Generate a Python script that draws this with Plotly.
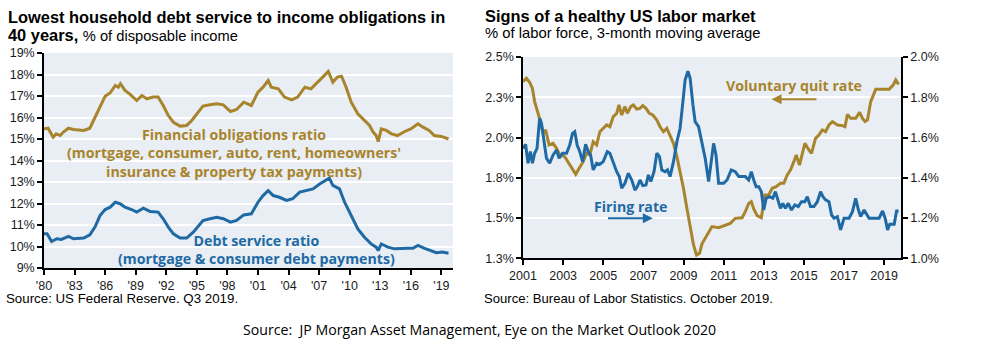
import plotly.graph_objects as go

# ---------------- Left chart data ----------------
for_years = [1980.0, 1980.4, 1980.9, 1981.2, 1981.6, 1981.9, 1982.4, 1982.9, 1983.9, 1984.5,
             1985.0, 1985.5, 1986.0, 1986.5, 1987.0, 1987.3, 1987.5, 1987.95, 1988.4, 1989.1,
             1989.6, 1990.1, 1990.7, 1991.2, 1991.7, 1992.2, 1992.7, 1993.35, 1994.0, 1994.5,
             1995.0, 1995.6, 1996.3, 1996.95, 1997.6, 1998.3, 1998.9, 1999.6, 2000.35, 2001.0,
             2001.5, 2002.0, 2002.3, 2003.0, 2003.6, 2004.3, 2004.9, 2005.6, 2006.2, 2006.9,
             2007.5, 2007.9, 2008.35, 2008.8, 2009.2, 2009.65, 2010.15, 2010.8, 2011.45, 2011.95,
             2012.3, 2012.6, 2012.8, 2013.1, 2013.6, 2014.1, 2014.7, 2015.4, 2016.0, 2016.7,
             2017.2, 2017.8, 2018.3, 2019.0, 2019.7]
for_values = [15.47, 15.5, 15.08, 15.24, 15.16, 15.32, 15.5, 15.44, 15.4, 15.5,
              16.0, 16.48, 16.99, 17.15, 17.49, 17.41, 17.57, 17.26, 17.1, 16.79,
              17.02, 16.87, 16.95, 16.95, 16.56, 16.09, 15.78, 15.6, 15.63, 15.86,
              16.17, 16.53, 16.59, 16.64, 16.59, 16.28, 16.37, 16.71, 16.56, 17.18,
              17.41, 17.72, 17.41, 17.33, 16.95, 16.82, 16.95, 17.41, 17.33, 17.64,
              17.95, 18.14, 17.64, 17.88, 17.92, 17.41, 16.71, 16.17, 15.86, 15.63,
              15.32, 15.16, 14.88, 15.47, 15.4, 15.24, 15.16, 15.35, 15.47, 15.71,
              15.55, 15.4, 15.16, 15.12, 15.0]

dsr_years = [1980.0, 1980.3, 1980.75, 1981.25, 1981.7, 1982.4, 1982.9, 1983.9, 1984.5, 1985.0,
             1985.5, 1986.0, 1986.5, 1987.0, 1987.5, 1987.95, 1988.6, 1989.1, 1989.75, 1990.4,
             1991.2, 1991.7, 1992.2, 1992.7, 1993.35, 1994.0, 1994.65, 1995.15, 1995.6, 1996.3,
             1996.95, 1997.6, 1998.3, 1998.9, 1999.6, 2000.35, 2001.0, 2001.5, 2002.0, 2002.5,
             2003.1, 2003.8, 2004.4, 2005.1, 2005.75, 2006.4, 2007.05, 2007.7, 2008.0, 2008.35,
             2009.0, 2009.5, 2010.15, 2010.8, 2011.45, 2012.1, 2012.6, 2012.8, 2013.1, 2013.75,
             2014.4, 2015.05, 2015.7, 2016.2, 2016.7, 2017.3, 2018.0, 2018.5, 2019.1, 2019.7]
dsr_values = [10.59, 10.59, 10.23, 10.36, 10.33, 10.47, 10.36, 10.39, 10.54, 10.9,
              11.44, 11.72, 11.83, 12.06, 11.98, 11.83, 11.72, 11.6, 11.78, 11.63,
              11.6, 11.29, 10.9, 10.59, 10.39, 10.39, 10.67, 10.98, 11.21, 11.29,
              11.36, 11.29, 11.13, 11.21, 11.47, 11.52, 12.06, 12.37, 12.6, 12.37,
              12.29, 12.14, 12.22, 12.53, 12.6, 12.68, 12.91, 13.07, 13.18, 12.84,
              12.68, 12.06, 11.44, 10.82, 10.43, 10.12, 9.97, 9.81, 10.12, 9.97,
              9.89, 9.92, 9.92, 9.92, 10.05, 9.92, 9.81, 9.71, 9.74, 9.69]

left_xticks = [1980, 1983, 1986, 1989, 1992, 1995, 1998, 2001, 2004, 2007, 2010, 2013, 2016, 2019]
left_xlabels = ["'80", "'83", "'86", "'89", "'92", "'95", "'98", "'01", "'04", "'07", "'10", "'13", "'16", "'19"]
left_yticks = [9, 10, 11, 12, 13, 14, 15, 16, 17, 18, 19]
left_ylabels = ["9%", "10%", "11%", "12%", "13%", "14%", "15%", "16%", "17%", "18%", "19%"]

# ---------------- Right chart data ----------------
quit_years = [2001.0, 2001.17, 2001.33, 2001.47, 2001.58, 2001.75, 2001.87, 2002.0, 2002.13, 2002.3,
              2002.5, 2002.67, 2002.83, 2003.08, 2003.33, 2003.5, 2003.63, 2003.8, 2004.0, 2004.17,
              2004.33, 2004.5, 2004.67, 2004.83, 2005.0, 2005.17, 2005.33, 2005.5, 2005.67, 2005.78,
              2005.92, 2006.08, 2006.2, 2006.37, 2006.5, 2006.67, 2006.83, 2006.97, 2007.13, 2007.3,
              2007.47, 2007.67, 2007.83, 2008.0, 2008.17, 2008.33, 2008.5, 2008.67, 2008.83, 2009.0,
              2009.17, 2009.33, 2009.5, 2009.65, 2009.8, 2009.92, 2010.08, 2010.25, 2010.42, 2010.75,
              2011.08, 2011.33, 2011.58, 2011.92, 2012.08, 2012.25, 2012.38, 2012.5, 2012.67, 2012.88,
              2013.05, 2013.25, 2013.42, 2013.62, 2013.83, 2014.0, 2014.17, 2014.33, 2014.5, 2014.62,
              2014.78, 2014.92, 2015.05, 2015.25, 2015.38, 2015.58, 2015.75, 2015.92, 2016.08, 2016.25,
              2016.42, 2016.67, 2016.92, 2017.05, 2017.17, 2017.33, 2017.58, 2017.78, 2017.92, 2018.05,
              2018.17, 2018.33, 2018.58, 2018.92, 2019.25, 2019.45, 2019.58, 2019.72]
quit_values = [2.347, 2.368, 2.343, 2.305, 2.223, 2.150, 2.099, 2.026, 2.047, 1.954,
               1.964, 1.933, 1.892, 1.881, 1.829, 1.798, 1.772, 1.809, 1.850, 1.902,
               1.892, 1.974, 1.954, 2.036, 2.057, 2.078, 2.067, 2.130, 2.150, 2.202,
               2.140, 2.192, 2.150, 2.192, 2.202, 2.177, 2.181, 2.198, 2.181, 2.150,
               2.140, 2.109, 2.067, 2.036, 2.057, 2.016, 1.964, 1.881, 1.788, 1.684,
               1.560, 1.436, 1.333, 1.270, 1.281, 1.340, 1.374, 1.416, 1.447, 1.440,
               1.457, 1.467, 1.498, 1.502, 1.540, 1.591, 1.602, 1.556, 1.515, 1.502,
               1.643, 1.643, 1.685, 1.695, 1.716, 1.716, 1.767, 1.798, 1.850, 1.892,
               1.829, 1.892, 1.964, 1.923, 1.902, 1.995, 2.016, 2.047, 2.036, 2.078,
               2.099, 2.078, 2.074, 2.067, 2.144, 2.119, 2.119, 2.156, 2.119, 2.099,
               2.109, 2.223, 2.299, 2.299, 2.299, 2.326, 2.357, 2.330]

fire_years = [2001.0, 2001.13, 2001.25, 2001.37, 2001.47, 2001.58, 2001.7, 2001.83, 2001.92, 2002.03,
              2002.17, 2002.33, 2002.5, 2002.67, 2002.8, 2002.97, 2003.17, 2003.33, 2003.47, 2003.58,
              2003.7, 2003.83, 2003.97, 2004.12, 2004.25, 2004.37, 2004.5, 2004.67, 2004.83, 2005.0,
              2005.2, 2005.33, 2005.5, 2005.67, 2005.8, 2005.92, 2006.08, 2006.25, 2006.42, 2006.58,
              2006.7, 2006.83, 2006.97, 2007.13, 2007.25, 2007.37, 2007.53, 2007.67, 2007.8, 2007.92,
              2008.08, 2008.2, 2008.33, 2008.5, 2008.67, 2008.83, 2008.97, 2009.08, 2009.22, 2009.33,
              2009.47, 2009.58, 2009.75, 2009.92, 2010.08, 2010.25, 2010.5, 2010.62, 2010.75, 2011.0,
              2011.17, 2011.38, 2011.58, 2011.75, 2012.08, 2012.25, 2012.38, 2012.5, 2012.62, 2012.75,
              2012.88, 2013.0, 2013.12, 2013.28, 2013.45, 2013.58, 2013.72, 2013.83, 2013.95, 2014.08,
              2014.22, 2014.38, 2014.55, 2014.72, 2014.88, 2015.05, 2015.17, 2015.33, 2015.5, 2015.67,
              2015.83, 2015.95, 2016.08, 2016.25, 2016.38, 2016.5, 2016.67, 2016.83, 2017.0, 2017.25,
              2017.42, 2017.58, 2017.72, 2017.83, 2018.0, 2018.25, 2018.5, 2018.75, 2018.92, 2019.05,
              2019.17, 2019.28, 2019.5, 2019.62, 2019.72]
fire_values = [1.546, 1.566, 1.472, 1.530, 1.472, 1.522, 1.546, 1.695, 1.671, 1.588,
               1.497, 1.472, 1.513, 1.538, 1.497, 1.522, 1.522, 1.563, 1.621, 1.629,
               1.563, 1.530, 1.480, 1.566, 1.530, 1.513, 1.439, 1.472, 1.467, 1.480,
               1.530, 1.522, 1.472, 1.430, 1.406, 1.348, 1.373, 1.422, 1.389, 1.339,
               1.356, 1.389, 1.361, 1.364, 1.414, 1.381, 1.430, 1.522, 1.505, 1.439,
               1.430, 1.439, 1.406, 1.480, 1.579, 1.646, 1.778, 1.886, 1.930, 1.894,
               1.762, 1.679, 1.654, 1.579, 1.497, 1.381, 1.571, 1.513, 1.373, 1.373,
               1.389, 1.439, 1.430, 1.406, 1.406, 1.389, 1.430, 1.389, 1.356, 1.356,
               1.331, 1.240, 1.298, 1.306, 1.298, 1.331, 1.281, 1.248, 1.273, 1.248,
               1.273, 1.240, 1.265, 1.257, 1.281, 1.281, 1.306, 1.257, 1.257, 1.281,
               1.331, 1.306, 1.290, 1.281, 1.215, 1.199, 1.207, 1.141, 1.199, 1.199,
               1.232, 1.298, 1.240, 1.207, 1.240, 1.199, 1.199, 1.199, 1.235, 1.199,
               1.141, 1.169, 1.169, 1.235, 1.235]

right_xticks = [2001, 2003, 2005, 2007, 2009, 2011, 2013, 2015, 2017, 2019]
quit_ticks = [1.25, 1.5, 1.75, 2.0, 2.25, 2.5]
quit_ticklabels = ["1.3%", "1.5%", "1.8%", "2.0%", "2.3%", "2.5%"]
fire_ticks = [1.0, 1.2, 1.4, 1.6, 1.8, 2.0]
fire_ticklabels = ["1.0%", "1.2%", "1.4%", "1.6%", "1.8%", "2.0%"]

GOLD = "#A8842C"
BLUE = "#1F6AA5"
BG = "#E8EEF3"
FONT = "Liberation Sans, Arial, sans-serif"
LBLFONT = "Open Sans, Arial, sans-serif"
TICKFONT = dict(family=FONT, size=12.5, color="#1a1a1a")

W, H = 985, 354
def px(x):
    return x / W
def py(y):
    return 1 - y / H

fig = go.Figure()
fig.add_trace(go.Scatter(x=for_years, y=for_values, mode="lines",
                         line=dict(color=GOLD, width=3), xaxis="x", yaxis="y", showlegend=False))
fig.add_trace(go.Scatter(x=dsr_years, y=dsr_values, mode="lines",
                         line=dict(color=BLUE, width=3), xaxis="x", yaxis="y", showlegend=False))
fig.add_trace(go.Scatter(x=quit_years, y=quit_values, mode="lines",
                         line=dict(color=GOLD, width=3), xaxis="x2", yaxis="y3", showlegend=False))
fig.add_trace(go.Scatter(x=fire_years, y=fire_values, mode="lines",
                         line=dict(color=BLUE, width=3), xaxis="x2", yaxis="y4", showlegend=False))

axis_common = dict(showline=True, linecolor="black", linewidth=1.5, ticks="outside",
                   ticklen=5, tickcolor="black", tickwidth=1.5, tickfont=TICKFONT,
                   zeroline=False, automargin=False)

fig.update_layout(
    width=W, height=H, margin=dict(l=0, r=0, t=0, b=0, autoexpand=False),
    paper_bgcolor="white", plot_bgcolor=BG,
    xaxis=dict(domain=[px(44), px(453)], range=[1980, 2020.14], anchor="y",
               tickvals=left_xticks, ticktext=left_xlabels, showgrid=False, **axis_common),
    yaxis=dict(domain=[py(268), py(53)], range=[9, 19], anchor="x",
               tickvals=left_yticks, ticktext=left_ylabels, showgrid=True, gridcolor="white",
               gridwidth=2, **axis_common),
    xaxis2=dict(domain=[px(523), px(901)], range=[2001, 2019.84], anchor="y3",
                tickvals=right_xticks, showgrid=False, **axis_common),
    yaxis3=dict(domain=[py(258.3), py(57)], range=[1.25, 2.5], anchor="x2",
                tickvals=quit_ticks, ticktext=quit_ticklabels, showgrid=True,
                gridcolor="white", gridwidth=2, **axis_common),
    yaxis4=dict(range=[1.0, 2.0], overlaying="y3", anchor="x2", side="right",
                tickvals=fire_ticks, ticktext=fire_ticklabels, showgrid=False, **axis_common),
)

ann = []
def paper_text(x, y, text, size, family=FONT, color="black", xanchor="left"):
    ann.append(dict(x=px(x), y=py(y), xref="paper", yref="paper", xanchor=xanchor,
                    yanchor="middle", text=text, showarrow=False,
                    font=dict(family=family, size=size, color=color)))

# Titles
paper_text(6, 17, "<b>Lowest household debt service to income obligations in</b>", 16.4)
paper_text(6, 35, "<b>40 years,</b> <span style='font-size:14.7px'>% of disposable income</span>", 16.4)
paper_text(483, 16, "<b>Signs of a healthy US labor market</b>", 16.4)
paper_text(483, 33, "% of labor force, 3-month moving average", 14.8)
# Sources
paper_text(4, 298, "Source: US Federal Reserve. Q3 2019.", 13.3)
paper_text(482, 298, "Source: Bureau of Labor Statistics. October 2019.", 13.1)
paper_text(479, 329, "Source:  JP Morgan Asset Management, Eye on the Market Outlook 2020", 14.15,
           family=LBLFONT, xanchor="center")

def data_text(x, y, text, color, xr, yr, size=14.2):
    ann.append(dict(x=x, y=y, xref=xr, yref=yr, xanchor="center", yanchor="middle",
                    text="<b>" + text + "</b>", showarrow=False, align="center",
                    font=dict(family=LBLFONT, size=size, color=color)))

# Left chart labels (multi-line, one annotation each)
data_text(1998.6, 14.36,
          "Financial obligations ratio<br>(mortgage, consumer, auto, rent, homeowners'<br>"
          "insurance &amp; property tax payments)", GOLD, "x", "y")
data_text(2000.9, 9.84, "Debt service ratio<br>(mortgage &amp; consumer debt payments)",
          BLUE, "x", "y")
# Right chart labels
data_text(2014.5, 2.322, "Voluntary quit rate", GOLD, "x2", "y3")
data_text(2006.37, 1.571, "Firing rate", BLUE, "x2", "y3")
ann.append(dict(x=2013.39, y=2.237, ax=2015.7, ay=2.237, xref="x2", yref="y3",
                axref="x2", ayref="y3", text="", showarrow=True, arrowhead=2,
                arrowsize=1, arrowwidth=2, arrowcolor=GOLD))
ann.append(dict(x=2007.47, y=1.498, ax=2005.16, ay=1.498, xref="x2", yref="y3",
                axref="x2", ayref="y3", text="", showarrow=True, arrowhead=2,
                arrowsize=1, arrowwidth=2, arrowcolor=BLUE))
fig.update_layout(annotations=ann)

fig.write_html("out.html")
